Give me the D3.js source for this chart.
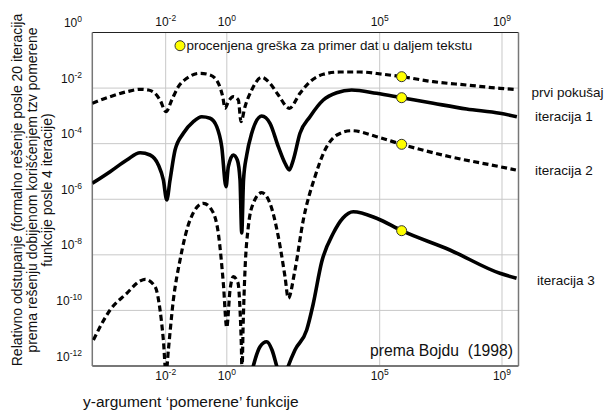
<!DOCTYPE html>
<html><head><meta charset="utf-8">
<script src="https://cdn.jsdelivr.net/npm/d3@7"></script>
<style>
html,body{margin:0;padding:0;background:#fff;}
text{font-family:"Liberation Sans",Arial,Helvetica,sans-serif;fill:#111;}
</style></head>
<body>
<svg id="c" width="608" height="412"></svg>
<script>
// ---- data (log10 exponents) ----
const xTickExps = [-2, 0, 5, 9];
const yTickExps = [0, -2, -4, -6, -8, -10, -12];
const xDomainExp = [-4.4, 9.54];
const yDomainExp = [-12, 0];

const seriesNames = ["prvi pokušaj", "iteracija 1", "iteracija 2", "iteracija 3"];

const prviX = [-4.4,-3.818,-3.272,-2.837,-2.566,-2.347,-2.184,-1.988,-1.801,-1.585,-1.311,-0.876,-0.549,-0.278,-0.134,-0.059,0.049,0.212,0.376,0.464,0.595,0.814,1.141,1.412,1.684,2.043,2.393,2.72,3.155,3.701,4.354,5.116,5.718,6.75,7.842,8.931,9.487];
const prviY = [-2.547,-2.31,-2.13,-2.044,-2.069,-2.188,-2.429,-2.85,-2.429,-1.95,-1.648,-1.468,-1.529,-1.828,-2.31,-2.727,-2.49,-2.31,-2.429,-3.209,-2.67,-2.069,-1.612,-1.828,-2.249,-2.727,-2.188,-1.77,-1.504,-1.421,-1.421,-1.504,-1.59,-1.77,-1.889,-2.008,-2.051];

const iter1X = [-4.4,-3.818,-3.272,-2.837,-2.511,-2.239,-2.076,-1.965,-1.857,-1.693,-1.422,-1.095,-0.821,-0.549,-0.33,-0.167,-0.026,0.049,0.212,0.343,0.432,0.487,0.546,0.651,0.814,1.141,1.412,1.684,1.903,2.043,2.174,2.393,2.72,3.155,3.593,4.083,4.9,5.718,6.75,7.842,8.931,9.487];
const iter1Y = [-5.426,-5.008,-4.587,-4.325,-4.408,-4.767,-5.307,-6.027,-5.307,-4.228,-3.627,-3.209,-3.03,-3.087,-3.389,-4.109,-5.548,-4.829,-4.408,-4.587,-5.307,-7.214,-5.307,-4.408,-3.627,-3.004,-3.267,-4.109,-4.706,-4.947,-4.587,-3.627,-3.03,-2.429,-2.166,-2.069,-2.188,-2.346,-2.547,-2.752,-2.907,-3.03];

const iter2X = [-4.364,-3.818,-3.272,-2.837,-2.674,-2.347,-2.184,-2.076,-1.988,-1.912,-1.749,-1.53,-1.203,-0.768,-0.494,-0.278,-0.114,-0.003,0.105,0.212,0.366,0.432,0.474,0.497,0.53,0.595,0.703,0.866,1.141,1.412,1.684,1.903,2.01,2.229,2.501,2.883,3.21,3.602,4.083,4.9,5.718,7.296,8.931,9.454];
const iter2Y = [-11.064,-9.984,-9.384,-8.941,-8.88,-9.146,-9.984,-11.064,-12.3,-11.424,-9.625,-8.185,-6.746,-6.145,-6.386,-7.225,-9.024,-10.614,-9.265,-8.786,-9.013,-9.984,-11.244,-12.3,-10.704,-8.545,-6.987,-6.145,-5.764,-6.145,-7.347,-8.786,-9.563,-8.545,-6.746,-5.188,-4.228,-3.688,-3.533,-3.749,-4.023,-4.469,-4.829,-4.947];

const iter3X = [0.758,0.866,1.085,1.304,1.478,1.631,1.804,2.01,2.229,2.612,2.818,3.102,3.481,3.799,4.135,4.9,5.718,7.296,8.931,9.477];
const iter3Y = [-12.5,-12.0,-11.305,-11.125,-11.424,-12.0,-12.7,-12.0,-11.424,-10.704,-9.805,-8.257,-7.225,-6.674,-6.448,-6.685,-7.131,-7.826,-8.664,-8.844];

const dotX = 5.718;
const dotY = [-1.59, -2.346, -4.023, -7.131];

const legendText = "procenjena greška za primer dat u daljem tekstu";
const sourceText = "prema Bojdu  (1998)";
const xTitle = "y-argument ‘pomerene’ funkcije";
const yTitleLines = ["Relativno odstupanje (formalno rešenje posle 20 iteracija",
                     "prema rešenju dobijenom korišćenjem tzv pomerene",
                     "funkcije posle 4 iteracije)"];

// ---- layout ----
const L = 92.3, R = 518.5, T = 32.5, B = 366;
const svg = d3.select("#c");
const x = d3.scaleLog().domain(xDomainExp.map(e => Math.pow(10, e))).range([L, R]);
const y = d3.scaleLog().domain(yDomainExp.map(e => Math.pow(10, e))).range([B, T]);

// gridlines
const grid = svg.append("g").attr("stroke", "#c8c8c8").attr("stroke-width", 1);
grid.selectAll("line.v").data(xTickExps).join("line")
  .attr("x1", d => x(Math.pow(10, d))).attr("x2", d => x(Math.pow(10, d)))
  .attr("y1", T).attr("y2", B);
grid.selectAll("line.h").data(yTickExps.filter(e => e > -12 && e < 0)).join("line")
  .attr("x1", L).attr("x2", R)
  .attr("y1", d => y(Math.pow(10, d))).attr("y2", d => y(Math.pow(10, d)));

// frame
svg.append("line").attr("x1", L).attr("x2", R).attr("y1", T).attr("y2", T).attr("stroke", "#222").attr("stroke-width", 1.2);
svg.append("line").attr("x1", R).attr("x2", R).attr("y1", T).attr("y2", B).attr("stroke", "#777").attr("stroke-width", 1.5);
svg.append("line").attr("x1", L).attr("x2", L).attr("y1", T).attr("y2", B).attr("stroke", "#777").attr("stroke-width", 1.5);
svg.append("line").attr("x1", L).attr("x2", R).attr("y1", B).attr("y2", B).attr("stroke", "#777").attr("stroke-width", 2);

// tick labels
function powLabel(sel, e) {
  sel.append("tspan").text("10");
  sel.append("tspan").attr("dy", -5).attr("font-size", 8.5).text(String(e));
}
[22+4.3, B + 13.5].forEach(yy => {
  xTickExps.forEach(e => {
    const t = svg.append("text").attr("x", x(Math.pow(10, e))).attr("y", yy)
      .attr("text-anchor", "middle").attr("font-size", 12);
    powLabel(t, e);
  });
});
yTickExps.forEach(e => {
  const t = svg.append("text").attr("x", 82).attr("y", y(Math.pow(10, e)) - 5.5)
    .attr("text-anchor", "end").attr("font-size", 12);
  powLabel(t, e);
});

// curves
const clip = svg.append("clipPath").attr("id", "pc").append("rect")
  .attr("x", L).attr("y", T).attr("width", R - L).attr("height", B - T);
const line = d3.line()
  .x(d => x(Math.pow(10, d[0]))).y(d => y(Math.pow(10, d[1])))
  .curve(d3.curveMonotoneX);
const series = [
  {xs: prviX, ys: prviY, dash: "6,3.5", w: 3.2},
  {xs: iter1X, ys: iter1Y, dash: null, w: 3.6},
  {xs: iter2X, ys: iter2Y, dash: "6,3.5", w: 3.2},
  {xs: iter3X, ys: iter3Y, dash: null, w: 3.6}
];
const cg = svg.append("g").attr("clip-path", "url(#pc)");
series.forEach(s => {
  cg.append("path").attr("d", line(d3.zip(s.xs, s.ys)))
    .attr("fill", "none").attr("stroke", "#000").attr("stroke-width", s.w)
    .attr("stroke-dasharray", s.dash).attr("stroke-linejoin", "round");
});

// yellow points
svg.selectAll("circle.pt").data(dotY).join("circle")
  .attr("cx", x(Math.pow(10, dotX))).attr("cy", d => y(Math.pow(10, d)))
  .attr("r", 5).attr("fill", "#ffff00").attr("stroke", "#333").attr("stroke-width", 1);

// legend
svg.append("circle").attr("cx", 180).attr("cy", 45.7).attr("r", 5)
  .attr("fill", "#ffff00").attr("stroke", "#333").attr("stroke-width", 1);
svg.append("text").attr("x", 186.5).attr("y", 50.3).attr("font-size", 13.4).text(legendText);

// series labels
const labelPos = [[531.5, 96.5], [535, 121], [535, 175], [537, 284.5]];
seriesNames.forEach((n, i) => {
  svg.append("text").attr("x", labelPos[i][0]).attr("y", labelPos[i][1])
    .attr("font-size", 13.5).text(n);
});

// source
svg.append("text").attr("x", 370).attr("y", 355.5).attr("font-size", 15.7)
  .style("white-space", "pre").text(sourceText);

// axis titles
svg.append("text").attr("x", 83).attr("y", 407).attr("font-size", 15.5).text(xTitle);
const yt = svg.append("text").attr("transform", "translate(0,190) rotate(-90)")
  .attr("text-anchor", "middle").attr("font-size", 14);
const lineX = [21.5, 36.5, 51.5];
yTitleLines.forEach((s, i) => {
  yt.append("tspan").attr("x", 0).attr("y", lineX[i]).text(s);
});
</script>
</body></html>
